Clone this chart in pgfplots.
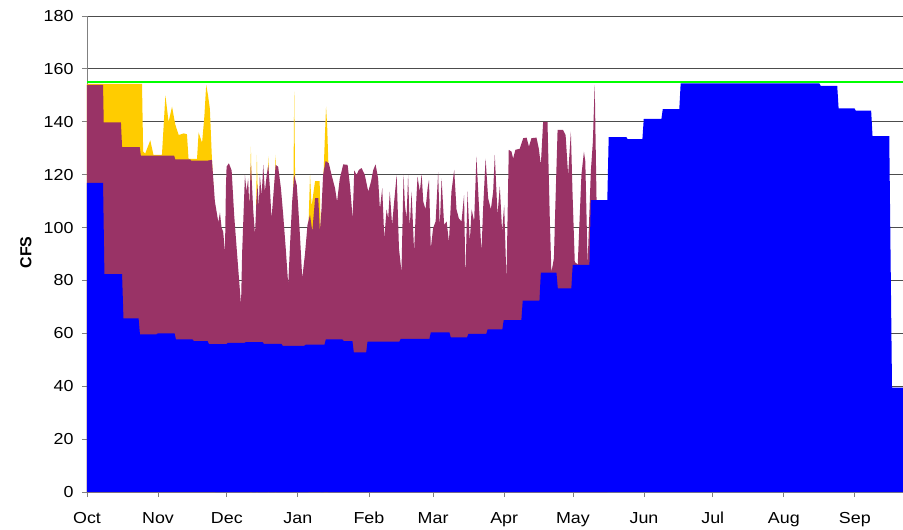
\documentclass[border=0pt]{standalone}
\usepackage{graphicx}
\usepackage{pgfplots}
\pgfplotsset{compat=1.18}
\usepackage{fontspec}
\setmainfont{Liberation Sans}
\usetikzlibrary{calc}
\definecolor{cfsblue}{RGB}{0,0,255}
\definecolor{cfsmaroon}{RGB}{153,51,102}
\definecolor{cfsgold}{RGB}{255,204,0}
\definecolor{cfsgreen}{RGB}{0,255,0}
\newcommand{\sx}[1]{\scalebox{1.12}[1]{#1}}
\begin{document}
\begin{tikzpicture}
\begin{axis}[
  scale only axis, width=816bp, height=476bp,
  xmin=0, xmax=356, ymin=0, ymax=180,
  axis x line*=bottom, axis y line*=left,
  axis line style={-, draw=black!50, line width=0.8bp},
  ytick={0,20,...,180},
  yticklabel={\sx{\pgfmathprintnumber{\tick}}},
  xtick={0,31,61,92,123,151,182,212,243,273,304,335},
  xticklabels={\sx{Oct},\sx{Nov},\sx{Dec},\sx{Jan},\sx{Feb},\sx{Mar},\sx{Apr},\sx{May},\sx{Jun},\sx{Jul},\sx{Aug},\sx{Sep}},
  ymajorgrids, grid style={black!70, line width=0.8bp},
  tick align=outside, major tick length=5bp,
  tick style={black!50, line width=0.8bp},
  /pgf/number format/assume math mode=true,
  ticklabel style={font=\fontsize{16}{18}\selectfont},
  yticklabel style={xshift=-5bp},
  xticklabel style={text height=11.5bp, text depth=3.5bp, yshift=-11bp},
  ylabel={\bfseries CFS},
  ylabel style={font=\fontsize{16}{18}\selectfont, at={(axis description cs:-0.075,0.503)}, anchor=center},
  clip=true,
]
% gold (top layer, drawn first)
\addplot[fill=cfsgold, draw=none] coordinates {
(0,154.3) (24,154.3) (24.5,128.7) (25.4,128) (27.6,133) (29,127.5) (32.7,127.5)
(34.2,150) (35.6,140) (37.1,145.7) (38.5,139) (40,135) (42.2,135.6) (43.6,135.3)
(44.3,126) (48,126) (48.7,136) (50.2,132) (51.2,142) (52,154) (52.8,150) (53.6,145)
(54.5,126) (55.5,108) (56,100)
} \closedcycle;
\addplot[fill=cfsgold, draw=none] coordinates {(71.1,112) (71.5,130.6) (71.9,112)} \closedcycle;
\addplot[fill=cfsgold, draw=none] coordinates {(73.8,108) (74.1,127.5) (74.5,112)} \closedcycle;
\addplot[fill=cfsgold, draw=none] coordinates {(78.8,118) (79.1,126.9) (79.4,118)} \closedcycle;
\addplot[fill=cfsgold, draw=none] coordinates {(82.0,118) (82.3,127.5) (82.6,120)} \closedcycle;
\addplot[fill=cfsgold, draw=none] coordinates {(90.0,110) (90.4,151.4) (90.8,118)} \closedcycle;
\addplot[fill=cfsgold, draw=none] coordinates {(96.6,100) (97.3,119.9) (98,108) (98.6,112) (99.5,117.6) (101.5,117.6) (101.9,100)} \closedcycle;
\addplot[fill=cfsgold, draw=none] coordinates {(103.2,120) (103.8,135) (104.3,145.7) (104.8,138) (105.3,124)} \closedcycle;
% maroon
\addplot[fill=cfsmaroon, draw=none] coordinates {
(0,154) (7,154) (7.3,139.8) (14.8,139.8) (15.3,130.4) (23,130.4) (23.5,127.2) (38,127.2)
(38.5,125.8) (45,125.8) (45.5,125.3) (52.5,125.3) (54.5,125.6) (55.8,109.8) (57.3,102)
(58,105.7) (58.7,100) (59.4,98.5) (60.2,90.9) (60.6,115) (60.9,123) (61.9,124.3)
(63.1,121.6) (64.2,104.8) (65.3,92.1) (66.3,80.8) (67.2,70.7) (67.7,90.9) (68.5,110)
(68.9,119.9) (69.6,113.6) (70.3,118.6) (70.8,108) (71.5,124.3) (72.5,106.9) (73.3,97.2)
(73.9,110) (74.4,116.1) (75,108) (75.4,119.9) (76.2,112.3) (76.9,123.7) (77.6,113.6)
(78.4,119.9) (79.1,123.7) (79.8,114.9) (80.5,103.5) (81.2,111.1) (82.3,123.7) (83.4,123)
(84.6,114.9) (85.6,104.8) (86.7,92.1) (87.8,78.3) (88.5,92.1) (89.5,109.8) (90.4,119.9)
(91.5,116.1) (92.1,108.5) (92.9,97.2) (93.9,80.8) (95.1,90) (96.2,101) (97.3,104.8)
(98.3,98.5) (99.5,111.1) (100.9,111.1) (101.6,98.5) (102.3,106.9) (103,119.9) (104.1,125.2)
(105.5,124.3) (106.7,119.9) (108.2,114.9) (109.1,109.8) (110.3,118.6) (111.8,123.9)
(113.7,123.7) (114.7,116.1) (115.9,103.5) (116.6,121.6) (117.6,119.9) (118.6,121.8)
(119.8,122.5) (121.2,119.9) (122.7,113.6) (123.9,117.4) (124.9,121.8) (125.9,123.9)
(127,118.6) (127.8,106.9) (128.8,114.9) (129.7,95.9) (130.7,106.9) (131.4,103.5)
(132.1,113.6) (133.1,101) (134,109.8) (135.1,119.9) (136.1,92.1) (137.2,83.3) (138.1,119.9)
(138.7,108.5) (139.4,103.5) (140.1,119.9) (140.8,99.8) (141.6,113.6) (142.7,90.9)
(143.7,111.1) (144.2,119.3) (145.2,113.6) (146,120.2) (146.7,109.8) (147.7,106.9)
(148.6,114.9) (149.2,118) (150,92.1) (151,99.8) (152.1,102.3) (153.2,121.1) (153.9,99.8)
(154.7,118.6) (155.8,101) (156.9,102.3) (157.9,94.6) (159,113.6) (160.2,121.8) (161.2,106.9)
(162.2,103.5) (163.4,102.3) (164.5,112.3) (165.1,80.8) (166,113.6) (167,94.6) (167.8,106.9)
(168.9,102.3) (169.9,126.8) (170.9,109.8) (172.1,90.9) (172.8,106.9) (173.9,126.1)
(175,111.1) (176.2,106.9) (177.2,113.6) (177.9,127.5) (179.1,104.8) (180.1,115.6)
(181.1,98.5) (182,108.5) (183,80) (184,129.4) (185.2,128.7) (185.9,126.1) (186.9,129.4)
(188.8,129.8) (190.3,133.8) (191.8,134) (192.8,130.6) (193.9,133.8) (196.1,134) (197.1,129.9)
(198,123.7) (199,140) (200.9,140) (201.9,103.5) (202.6,83) (203.7,88.4) (204.3,107.3)
(205.3,136.9) (207.7,136.9) (208.8,135) (209.9,119.9) (211.1,136.3) (211.8,113.6) (212.8,87)
(214.1,86) (215.7,119.9) (216.8,128.7) (217.4,125) (218.4,86) (219.8,121.1) (220.7,132.5)
(221.5,154) (222.3,110.4) (227,110.4)
} \closedcycle;
% blue
\addplot[fill=cfsblue, draw=none] coordinates {
(0,116.9) (7,116.9) (7.6,82.4) (15.3,82.4) (15.9,65.7) (22.5,65.7) (23.1,59.6) (30.3,59.6)
(30.9,60.0) (38.2,60.0) (38.8,57.7) (46,57.7) (46.6,57.1) (52.6,57.1) (53.2,55.9) (60.8,55.9)
(61.4,56.4) (68.7,56.4) (69.3,56.7) (76.6,56.7) (77.2,56.0) (84.8,56.0) (85.4,55.3) (94.8,55.3)
(95.4,55.7) (103.6,55.7) (104.2,57.7) (111.4,57.7) (112,57.1) (115.8,57.1) (116.4,52.8)
(121.8,52.8) (122.4,56.9) (136.3,56.9) (136.9,57.9) (149.4,57.9) (150,60.4) (158.1,60.4)
(158.7,58.5) (165.8,58.5) (166.4,59.8) (174.2,59.8) (174.8,61.5) (181.2,61.5) (181.8,65)
(189.5,65) (190.1,72.4) (197.4,72.4) (198,83) (204.8,83) (205.4,77) (211.3,77) (211.9,85.9)
(219.2,85.9) (219.8,110.4) (227,110.4) (227.6,134.2) (235.3,134.2) (235.9,133.4) (242.3,133.4)
(242.9,141.1) (250.6,141.1) (251.2,144.8) (258.4,144.8) (259,154.5) (319.5,154.5) (320.1,153.6)
(327.3,153.6) (327.9,145.1) (334.8,145.1) (335.4,144.2) (342.1,144.2) (342.7,134.6) (350,134.6)
(351.2,39.5) (356,39.5)
} \closedcycle;
% green limit line
\addplot[cfsgreen, line width=2.5bp] coordinates {(0,155) (356,155)};
\end{axis}
\pgfresetboundingbox
\path ($(current axis.south west)+(-87bp,-38bp)$) rectangle ($(current axis.north east)+(0bp,16bp)$);
\end{tikzpicture}
\end{document}
